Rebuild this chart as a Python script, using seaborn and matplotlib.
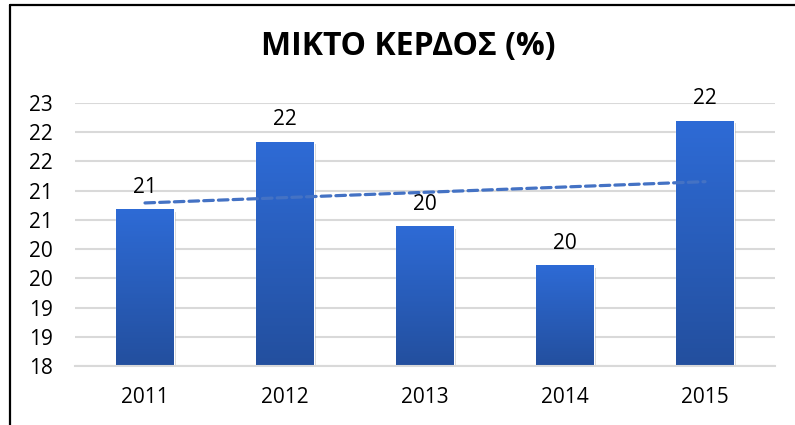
import numpy as np
import pandas as pd
import matplotlib
matplotlib.use("Agg")
import matplotlib.pyplot as plt
import matplotlib.patheffects as pe
from matplotlib.lines import Line2D
from matplotlib.colors import LinearSegmentedColormap
from matplotlib.ticker import FuncFormatter, FixedLocator
import seaborn as sns

# datos
anios = ["2011", "2012", "2013", "2014", "2015"]
kerdos = [20.69, 21.84, 20.40, 19.73, 22.20]
titulo = "ΜΙΚΤΟ ΚΕΡΔΟΣ (%)"

sns.set_theme(style="white")
plt.rcParams["font.family"] = ["Open Sans", "DejaVu Sans"]

df = pd.DataFrame({"anio": anios, "kerdos": kerdos})

fig = plt.figure(figsize=(7.95, 4.25), dpi=100)
ax = fig.add_axes([75 / 795, 1 - 366 / 425, 700 / 795, 263 / 425])

sns.barplot(data=df, x="anio", y="kerdos", color="#2A5EBE", width=0.41,
            ax=ax, zorder=3)
ax.set_ylim(18, 22.5)
ax.set_xlim(-0.5, 4.5)

# degradado en las barras
cmap = LinearSegmentedColormap.from_list("azul", ["#234F9E", "#2E6BD6"])
grad = np.linspace(0, 1, 256).reshape(-1, 1)
for p in ax.patches:
    p.set_path_effects([pe.SimplePatchShadow(offset=(2, -2), shadow_rgbFace="#808080", alpha=0.35),
                        pe.Normal()])
    x0 = p.get_x()
    w = p.get_width()
    top = p.get_height()
    im = ax.imshow(grad, cmap=cmap, origin="lower", aspect="auto",
                   extent=[x0, x0 + w, 18, top], zorder=4)
    im.set_clip_path(p)
ax.set_xlim(-0.5, 4.5)
ax.set_ylim(18, 22.5)

# etiquetas de datos
ax.bar_label(ax.containers[0], labels=[f"{int(np.floor(v + 0.5))}" for v in kerdos],
             padding=8, fontsize=15, color="#000000")

# linea de tendencia
xs = np.arange(len(kerdos))
m, b = np.polyfit(xs, kerdos, 1)
ax.plot(xs, m * xs + b, color="#4472C4", lw=2.3, ls=(0, (3, 1.6)),
        dash_capstyle="round", zorder=6)

# ejes
ax.yaxis.set_major_locator(FixedLocator(np.arange(18, 22.51, 0.5)))
ax.yaxis.set_major_formatter(FuncFormatter(lambda v, pos: f"{int(np.floor(v + 0.5))}"))
ax.grid(axis="y", color="#D9D9D9", lw=1.5, zorder=0)
ax.set_axisbelow(True)
for s in ["top", "right", "left"]:
    ax.spines[s].set_visible(False)
ax.spines["bottom"].set_color("#D9D9D9")
ax.spines["bottom"].set_linewidth(1.5)
ax.spines["bottom"].set_zorder(5)
ax.tick_params(axis="y", length=0, pad=16, labelsize=15, labelcolor="#000000")
ax.tick_params(axis="x", which="major", length=0, pad=15, labelsize=15, labelcolor="#000000")
ax.xaxis.set_minor_locator(FixedLocator(np.arange(-0.5, 5, 1)))
ax.tick_params(axis="x", which="minor", length=5, width=1.5, color="#D9D9D9", direction="out")
ax.set_xlabel("")
ax.set_ylabel("")

fig.text(408 / 795, 1 - 47 / 425, titulo, ha="center", va="center",
         fontsize=23, fontweight="bold", color="#000000")

# bordes del recuadro
fig.add_artist(Line2D([10 / 795, 1], [1 - 5 / 425, 1 - 5 / 425], color="black", lw=1.6))
fig.add_artist(Line2D([10 / 795, 10 / 795], [0, 1 - 5 / 425], color="black", lw=1.6))

fig.savefig("out.png", dpi=100)
